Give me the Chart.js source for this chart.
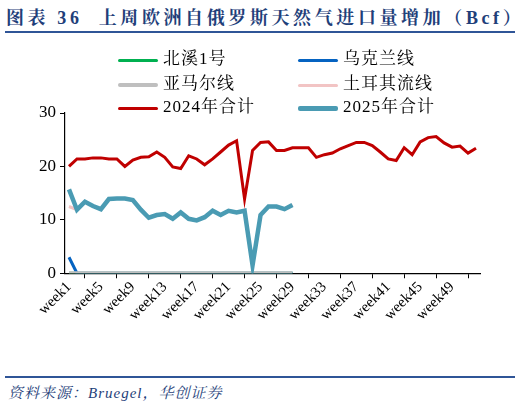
<!DOCTYPE html>
<html><head><meta charset="utf-8">
<script src="https://cdn.jsdelivr.net/npm/chart.js@4"></script>
<style>
body{margin:0;width:519px;height:410px;background:#fff;position:relative;overflow:hidden;font-family:"Liberation Serif","Noto Serif CJK SC","Noto Sans CJK SC",serif}
#title{position:absolute;left:6px;top:3px;font-size:18px;font-weight:bold;color:#1F3F7A;white-space:nowrap;letter-spacing:3.6px}
.hr{position:absolute;left:5px;width:510px;height:2px;background:#2F5597}
#src{position:absolute;left:8px;top:381px;font-size:15px;font-style:italic;color:#1F3F7A;letter-spacing:1px}
.lg{position:absolute;font-size:17px;color:#000;white-space:nowrap;letter-spacing:1px}
.lg i{display:inline-block;width:40px;vertical-align:middle;margin-right:5px;border-radius:2px}
canvas{position:absolute;left:0;top:0}
</style></head><body>
<div id="title">图表 36&nbsp;&nbsp;上周欧洲自俄罗斯天然气进口量增加（Bcf）</div>
<div class="hr" style="top:31px"></div>
<div class="hr" style="top:376px"></div>
<div id="src">资料来源：Bruegel，华创证券</div>
<div style="position:absolute;left:0;top:0;width:519px;height:410px"><canvas id="c" width="519" height="410"></canvas></div>
<div id="legend"></div>
<script>
const weeks = Array.from({length:52},(_,i)=>'week'+(i+1));
const nordStream = Array(29).fill(0);
const ukraine = [3,0,0,0,0,0,0,0,0,0,0,0,0,0,0,0,0,0,0,0,0,0,0,0,0,0,0,0,0];
const yamal = Array(29).fill(0);
const turkStream = [12.5,11.9,13.4,12.6,12.0,13.9,14.0,14.0,13.7,11.9,10.4,10.9,11.1,10.2,11.4,10.2,9.9,10.5,11.7,10.9,11.7,11.4,11.7,1.5,10.9,12.5,12.5,12.0,12.8];
const total2024 = [20.0,21.4,21.4,21.6,21.6,21.4,21.4,20.0,21.2,21.7,21.8,22.7,21.7,19.9,19.6,22.0,21.4,20.3,21.4,22.7,24.0,24.8,13.9,23.0,24.5,24.6,23.0,23.0,23.5,23.5,23.5,21.7,22.2,22.5,23.3,23.9,24.5,24.5,23.9,22.7,21.4,21.1,23.5,22.2,24.6,25.4,25.6,24.4,23.6,23.8,22.5,23.4];
const total2025 = [15.7,11.9,13.4,12.6,12.0,13.9,14.0,14.0,13.7,11.9,10.4,10.9,11.1,10.2,11.4,10.2,9.9,10.5,11.7,10.9,11.7,11.4,11.7,1.5,10.9,12.5,12.5,12.0,12.8];
const yTicks = [0,10,20,30];

const series = [
 {label:'北溪1号',data:nordStream,color:'#00B050',w:3,order:5},
 {label:'乌克兰线',data:ukraine,color:'#0563C1',w:3,order:3},
 {label:'亚马尔线',data:yamal,color:'#BFBFBF',w:4,order:2},
 {label:'土耳其流线',data:turkStream,color:'#F2C4C4',w:3,order:4},
 {label:'2024年合计',data:total2024,color:'#C00000',w:3,order:0},
 {label:'2025年合计',data:total2025,color:'#4A9BB3',w:4.5,order:1},
];
const lgPos=[[118,44],[298,44],[118,69],[298,69],[118,92],[298,92]];
const lg=document.getElementById('legend');
series.forEach((s,i)=>{const d=document.createElement('div');d.className='lg';d.style.left=lgPos[i][0]+'px';d.style.top=lgPos[i][1]+'px';
 d.innerHTML='<i style="height:'+Math.round(s.w)+'px;background:'+s.color+'"></i>'+s.label;lg.appendChild(d);});

new Chart(document.getElementById('c'),{type:'line',
 data:{labels:weeks,datasets:series.map(s=>({label:s.label,data:s.data,borderColor:s.color,borderWidth:s.w,order:s.order,pointRadius:0,tension:0,fill:false}))},
 options:{responsive:false,animation:false,
  layout:{padding:{left:35,top:113,right:39,bottom:86}},
  plugins:{legend:{display:false},tooltip:{enabled:false}},
  scales:{
   x:{offset:true,grid:{display:true,drawOnChartArea:false,color:'#000',tickLength:5,offset:true},border:{color:'#000',width:1.2},
      ticks:{autoSkip:false,maxRotation:45,minRotation:45,color:'#000',font:{family:'Liberation Serif',size:15},padding:0,
        callback:function(v,i){return i%4===0?weeks[i]:null;}}},
   y:{min:0,max:30,afterBuildTicks:a=>{a.ticks=yTicks.map(v=>({value:v}));},
      grid:{display:true,drawOnChartArea:false,color:'#000',tickLength:5},border:{color:'#000',width:1.2},
      ticks:{color:'#000',font:{family:'Liberation Serif',size:17},padding:4}}
  }}});
</script></body></html>
